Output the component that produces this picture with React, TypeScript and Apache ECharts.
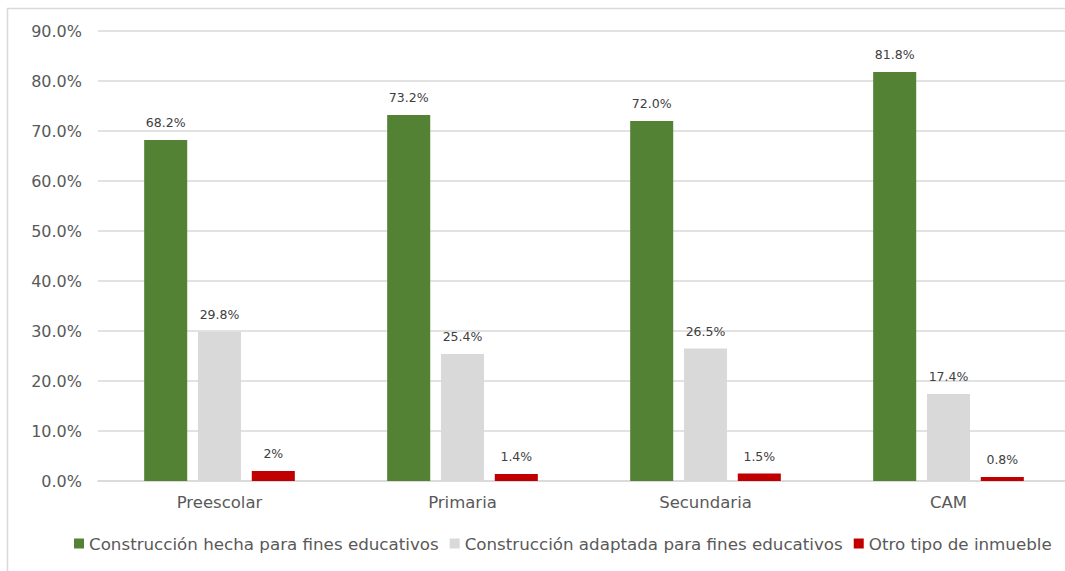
import React, { useEffect, useRef } from "react";
import * as echarts from "echarts";

const categories = ["Preescolar", "Primaria", "Secundaria", "CAM"];
const seriesNames = [
  "Construcción hecha para fines educativos",
  "Construcción adaptada para fines educativos",
  "Otro tipo de inmueble",
];
const hechaValues = [68.2, 73.2, 72.0, 81.8];
const adaptadaValues = [29.8, 25.4, 26.5, 17.4];
const otroValues = [2, 1.4, 1.5, 0.8];
const hechaLabels = ["68.2%", "73.2%", "72.0%", "81.8%"];
const adaptadaLabels = ["29.8%", "25.4%", "26.5%", "17.4%"];
const otroLabels = ["2%", "1.4%", "1.5%", "0.8%"];
const colors = ["#548235", "#d9d9d9", "#c00000"];

const FONT = "DejaVu Sans";

export default function App() {
  const ref = useRef<HTMLDivElement>(null);
  useEffect(() => {
    if (!ref.current) return;
    const chart = echarts.init(ref.current, undefined, { renderer: "svg" });
    const mk = (i: number, vals: number[], labels: string[]) => ({
      name: seriesNames[i],
      type: "bar",
      data: vals,
      itemStyle: { color: colors[i] },
      barGap: "25%",
      barCategoryGap: "38%",
      label: {
        show: true,
        position: "top",
        distance: 11,
        color: "#404040",
        fontFamily: FONT,
        fontSize: 12.5,
        formatter: (p: any) => labels[p.dataIndex],
      },
    });
    chart.setOption({
      animation: false,
      textStyle: { fontFamily: FONT },
      graphic: [
        {
          type: "rect",
          shape: { x: 7.5, y: 8.5, width: 1150, height: 600 },
          style: { fill: "none", stroke: "#d9d9d9", lineWidth: 1.5 },
          silent: true,
        },
      ],
      grid: { left: 98, top: 31, width: 972, height: 450, containLabel: false },
      legend: {
        top: 530,
        left: 69,
        itemWidth: 10,
        itemHeight: 10,
        itemGap: 11,
        icon: "rect",
        textStyle: { color: "#595959", fontSize: 16.7, fontFamily: FONT },
        data: seriesNames,
      },
      xAxis: {
        type: "category",
        data: categories,
        axisTick: { show: false },
        axisLine: { lineStyle: { color: "#d9d9d9", width: 1.5 } },
        axisLabel: { color: "#595959", fontSize: 16.5, margin: 13, fontFamily: FONT },
      },
      yAxis: {
        type: "value",
        min: 0,
        max: 90,
        interval: 10,
        axisLine: { show: false },
        axisTick: { show: false },
        splitLine: { lineStyle: { color: "#d9d9d9", width: 1.5 } },
        axisLabel: {
          color: "#595959",
          fontSize: 16,
          margin: 16,
          fontFamily: FONT,
          formatter: (v: number) => v.toFixed(1) + "%",
        },
      },
      series: [
        mk(0, hechaValues, hechaLabels),
        mk(1, adaptadaValues, adaptadaLabels),
        mk(2, otroValues, otroLabels),
      ],
    });
    return () => chart.dispose();
  }, []);
  return (
    <div style={{ position: "absolute", left: 0, top: 0, width: 1065, height: 571, overflow: "hidden", background: "#fff" }}>
      <div ref={ref} style={{ width: 1120, height: 571 }} />
    </div>
  );
}
